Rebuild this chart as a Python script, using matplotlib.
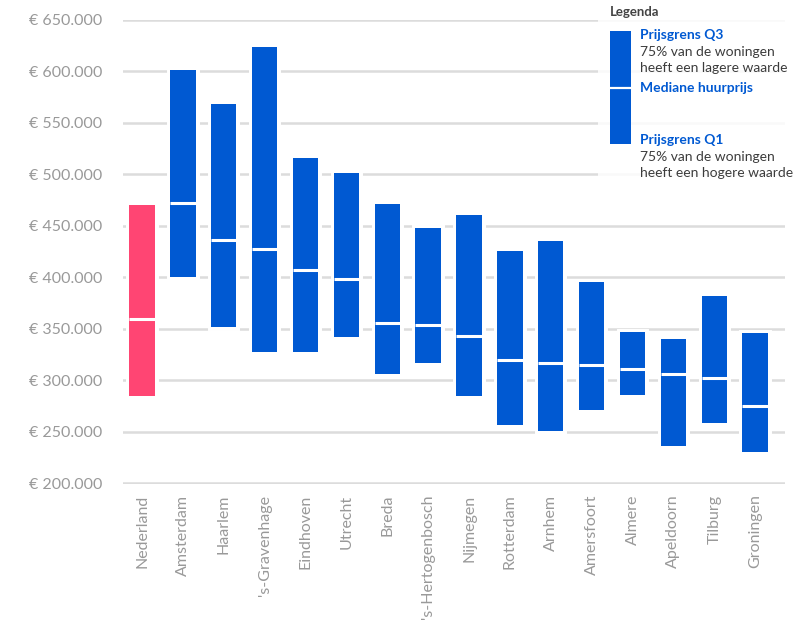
import numpy as np
import matplotlib
matplotlib.use("Agg")
import matplotlib.pyplot as plt
import matplotlib.patheffects as pe
from matplotlib.patches import Rectangle

# Koopprijzen per gemeente: Q1, mediaan en Q3
gemeenten = ["Nederland", "Amsterdam", "Haarlem", "'s-Gravenhage", "Eindhoven",
             "Utrecht", "Breda", "'s-Hertogenbosch", "Nijmegen", "Rotterdam",
             "Arnhem", "Amersfoort", "Almere", "Apeldoorn", "Tilburg", "Groningen"]
q1 = [285000, 400000, 352000, 328000, 328000, 342000, 306000, 317000,
      285000, 257000, 251000, 271000, 286000, 236000, 259000, 231000]
mediaan = [360000, 472000, 436000, 427000, 407000, 398000, 356000, 354000,
           343000, 320000, 317000, 315000, 311000, 306000, 302000, 275000]
q3 = [470000, 601000, 568000, 623000, 516000, 501000, 471000, 448000,
      460000, 425000, 435000, 395000, 347000, 340000, 382000, 346000]

y_ticks = list(range(200000, 650001, 50000))

BLAUW = "#0059D2"
ROZE = "#FF4573"
GRIJS = "#999999"

plt.rcParams["font.family"] = ["Lato", "DejaVu Sans"]

W, H = 808, 626
fig = plt.figure(figsize=(W / 100, H / 100), dpi=100)
ax = fig.add_axes([123 / W, 1 - 483.5 / H, (785 - 123) / W, (483.5 - 19.5) / H])

x = np.arange(len(gemeenten))
kleuren = [ROZE] + [BLAUW] * (len(gemeenten) - 1)
breedte = 0.62
hoogte = np.array(q3) - np.array(q1)

bars = ax.bar(x, hoogte, bottom=q1, width=breedte, color=kleuren,
              linewidth=0, zorder=3)
for b in bars:
    b.set_path_effects([pe.Stroke(linewidth=5, foreground="white"), pe.Normal()])

ax.hlines(mediaan, x - breedte / 2, x + breedte / 2, color="white",
          linewidth=2.2, zorder=4)

ax.set_ylim(200000, 650000)
ax.set_xlim(-0.465, 15.73)
ax.set_yticks(y_ticks)
ax.set_yticklabels(["€ " + f"{v:,}".replace(",", ".") for v in y_ticks])
ax.set_xticks(x)
ax.set_xticklabels(gemeenten, rotation=90, va="top", ha="center")
ax.tick_params(axis="y", length=0, pad=15, labelsize=11.5, labelcolor=GRIJS)
ax.tick_params(axis="x", length=0, pad=8, labelsize=11.5, labelcolor=GRIJS)
for s in ax.spines.values():
    s.set_visible(False)
ax.grid(axis="y", color="#dcdcdc", linewidth=1.8, zorder=0)
ax.set_axisbelow(True)

# Legenda rechtsboven, in pixelcoordinaten
lg = fig.add_axes([598 / W, 1 - 192 / H, 210 / W, 192 / H], zorder=5)
lg.set_xlim(598, 808)
lg.set_ylim(192, 0)
lg.axis("off")
lg.add_patch(Rectangle((598, 0), 210, 192, color="white", alpha=0.85, lw=0))
lg.text(610, 12, "Legenda", fontsize=9.5, fontweight="bold", color="#444444",
        va="center")
lg.add_patch(Rectangle((610, 31), 21, 113, color=BLAUW, lw=0))
lg.plot([610, 631], [88, 88], color="white", lw=1.6)
blok = [
    (35, "Prijsgrens Q3", True),
    (52, "75% van de woningen", False),
    (68, "heeft een lagere waarde", False),
    (88, "Mediane huurprijs", True),
    (140, "Prijsgrens Q1", True),
    (157, "75% van de woningen", False),
    (173, "heeft een hogere waarde", False),
]
for y, tekst, vet in blok:
    lg.text(640, y, tekst, fontsize=10, va="center",
            fontweight="bold" if vet else "normal",
            color=BLAUW if vet else "#3c3c3c")

fig.savefig("out.png", dpi=100)
